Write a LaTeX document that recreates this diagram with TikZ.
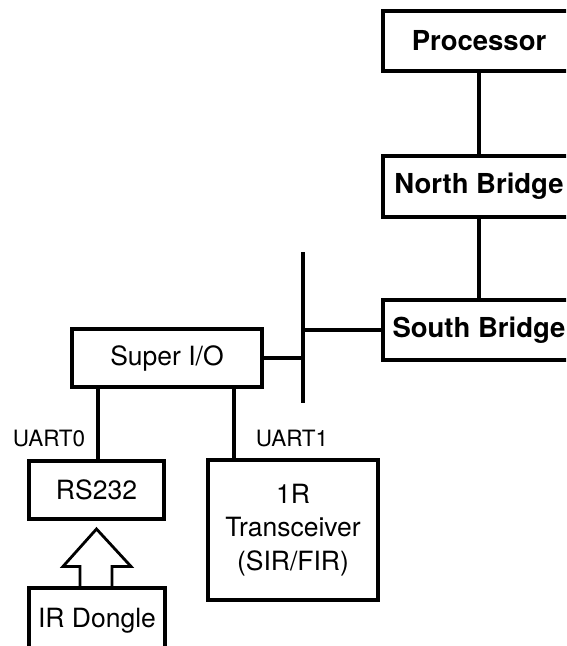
\documentclass[tikz,border=0pt]{standalone}
\usepackage{fontspec}
\setmainfont{TeX Gyre Heros}
\begin{document}
\begin{tikzpicture}[x=1pt,y=-1pt,
  box/.style={draw,line width=3.1pt,inner sep=0pt,align=center},
  bbox/.style={box,font=\bfseries\fontsize{27.5}{32}\selectfont},
  rbox/.style={box,font=\fontsize{26.5}{33.5}\selectfont},
  lbl/.style={font=\fontsize{22.5}{25}\selectfont,inner sep=0pt},
  wire/.style={line width=3.1pt}]
\clip (0,0) rectangle (566,646);
\fill[white] (0,0) rectangle (566,646);
\node[bbox,minimum width=192pt,minimum height=60pt] (proc) at (479,41) {Processor};
\node[bbox,minimum width=192pt,minimum height=61pt] (nb) at (479,186.5) {North Bridge};
\node[bbox,minimum width=192pt,minimum height=60pt] (sb) at (479,330) {South Bridge};
\node[rbox,minimum width=190pt,minimum height=58pt] (sio) at (167,358) {Super I/O};
\node[rbox,minimum width=135pt,minimum height=58pt] (rs) at (96.5,490) {RS232};
\node[rbox,minimum width=170pt,minimum height=140pt] (irt) at (293,530) {1R\\Transceiver\\(SIR/FIR)};
\node[rbox,minimum width=136pt,minimum height=66pt] (dongle) at (97,621) {IR Dongle};
\node[lbl] (u0) at (49,438) {UART0};
\node[lbl] (u1) at (292,438) {UART1};
\coordinate (busT) at (303,252);
\coordinate (busB) at (303,403);
\draw[wire] (proc) -- (nb);
\draw[wire] (nb) -- (sb);
\draw[wire] (busT) -- (busB);
\draw[wire] (sb.west) -- (sb.west -| busT);
\draw[wire] (sio.east) -- (sio.east -| busT);
\draw[wire] (rs.north -| 98,0) -- (sio.south -| 98,0);
\draw[wire] (irt.north -| 234,0) -- (sio.south -| 234,0);
\draw[line width=2.8pt,line join=miter]
  ([xshift=-17pt]dongle.north) -- ++(0,-20) -- ++(-17,0) -- (rs.south |- 0,529)
  -- ([xshift=34pt,yshift=20pt]dongle.north) -- ++(-19,0) -- ([xshift=15pt]dongle.north);
\end{tikzpicture}
\end{document}
